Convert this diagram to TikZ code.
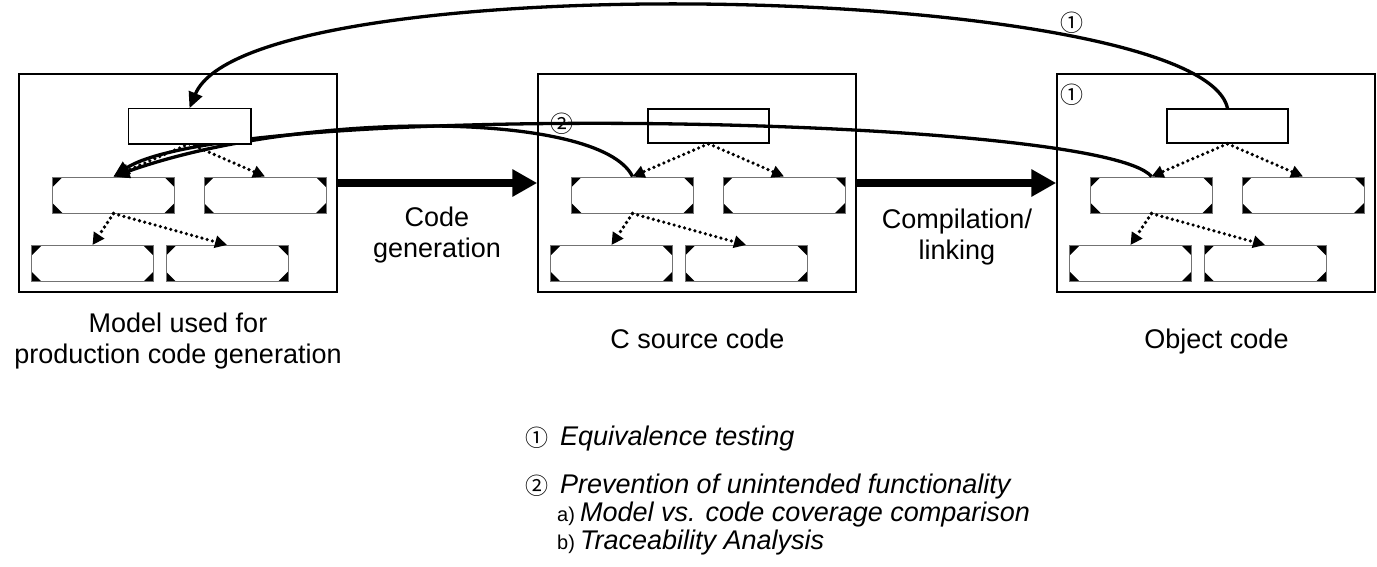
\documentclass[tikz,border=0pt]{standalone}
\usepackage{fontspec}
\setmainfont{Liberation Sans}
\newfontfamily\circfont{Noto Sans CJK SC}
\usetikzlibrary{arrows.meta}
\tikzset{
  frame/.style={draw, line width=1.5pt, minimum width=318pt, minimum height=218pt, inner sep=0pt},
  toprect/.style={draw, line width=1.5pt, minimum width=121pt, minimum height=34pt, inner sep=0pt},
  octbox/.style={draw=black!55, line width=1pt, minimum width=122pt, minimum height=36pt, inner sep=0pt,
    path picture={
      \fill[black] (path picture bounding box.north west) -- ++(10pt,0pt) -- ++(-10pt,-10pt) -- cycle;
      \fill[black] (path picture bounding box.north east) -- ++(-10pt,0pt) -- ++(10pt,-10pt) -- cycle;
      \fill[black] (path picture bounding box.south west) -- ++(10pt,0pt) -- ++(-10pt,10pt) -- cycle;
      \fill[black] (path picture bounding box.south east) -- ++(-10pt,0pt) -- ++(10pt,10pt) -- cycle;
    }},
  dotarrow/.style={line width=3.6pt, dash pattern=on 0pt off 5.4pt, line cap=round,
    -{Triangle[length=12pt,width=12pt]}},
  bigarrow/.style={line width=8pt, -{Triangle[length=25pt,width=26pt]}},
  curvearrow/.style={line width=3.3pt, -{Triangle[length=16pt,width=14pt]}},
  lbl/.style={font=\fontsize{27}{31}\selectfont, align=center, inner sep=0pt},
  lgd/.style={font=\fontsize{27}{31}\selectfont\itshape, inner sep=0pt},
  sublbl/.style={font=\fontsize{20}{24}\selectfont, inner sep=0pt},
  circ/.style={font=\fontsize{23}{25}\circfont, inner sep=0pt},
  module/.pic={
    \node[frame] (-frame) at (159,109) {};
    \node[toprect] (-top) at (170.5,52) {};
    \node[octbox] (-a) at (94.5,121) {};
    \node[octbox] (-b) at (246,121) {};
    \node[octbox] (-c) at (73.5,189.5) {};
    \node[octbox] (-d) at (208,189.5) {};
    \draw[dotarrow] (-top.south) -- (-a.north);
    \draw[dotarrow] (-top.south) -- (-b.north);
    \draw[dotarrow] (-a.south) -- (-c.north);
    \draw[dotarrow] (-a.south) -- (-d.north);
  }
}
\begin{document}
\begin{tikzpicture}[x=1pt,y=-1pt]
\useasboundingbox[fill=white] (0,0) rectangle (1377,566);
\pic (L) at (19,74) {module};
\pic (M) at (538,74) {module};
\pic (R) at (1057,74) {module};
% thick arrows
\draw[bigarrow] (L-frame.east) -- (M-frame.west);
\draw[bigarrow] (M-frame.east) -- (R-frame.west);
% curves
\draw[curvearrow] (R-top.north) .. controls (1200,-18) and (250,-38) .. (L-top.north);
\draw[curvearrow] (M-a.north) .. controls (600,110) and (300,110) .. (L-a.north);
\draw[curvearrow] (R-a.north) .. controls (1100,115) and (230,100) .. (L-a.north);
% left top rect drawn over the curves
\path[fill=white, draw=black, line width=1.5pt] (L-top.south west) rectangle (L-top.north east);
% circled markers
\node[circ] (c1) at (1072,23) {①};
\node[circ] (c1b) at (1072,95) {①};
\node[circ] (c2) at (562,124) {②};
% labels
\node[lbl] (cg) at (437,235.5) {Code\\generation};
\node[lbl] (cl) at (957,237.5) {Compilation/\\linking};
\node[lbl] (lm) at (178,341.5) {Model used for\\production code generation};
\node[lbl, anchor=base] (lc) at (697.5,348.5) {C source code};
\node[lbl, anchor=base] (lo) at (1216.5,348.5) {Object code};
% legend
\node[circ] (n1) at (537,438) {①};
\node[lgd, anchor=base west] (e1) at (560,445) {Equivalence testing};
\node[circ] (n2) at (537,486) {②};
\node[lgd, anchor=base west] (e2) at (560,493) {Prevention of unintended functionality};
\node[sublbl, anchor=base west] (sa) at (557,521) {a)};
\node[lgd, anchor=base west] (ea) at (580,521) {Model vs. code coverage comparison};
\node[sublbl, anchor=base west] (sb) at (557,549) {b)};
\node[lgd, anchor=base west] (eb) at (580,549) {Traceability Analysis};
\end{tikzpicture}
\end{document}
